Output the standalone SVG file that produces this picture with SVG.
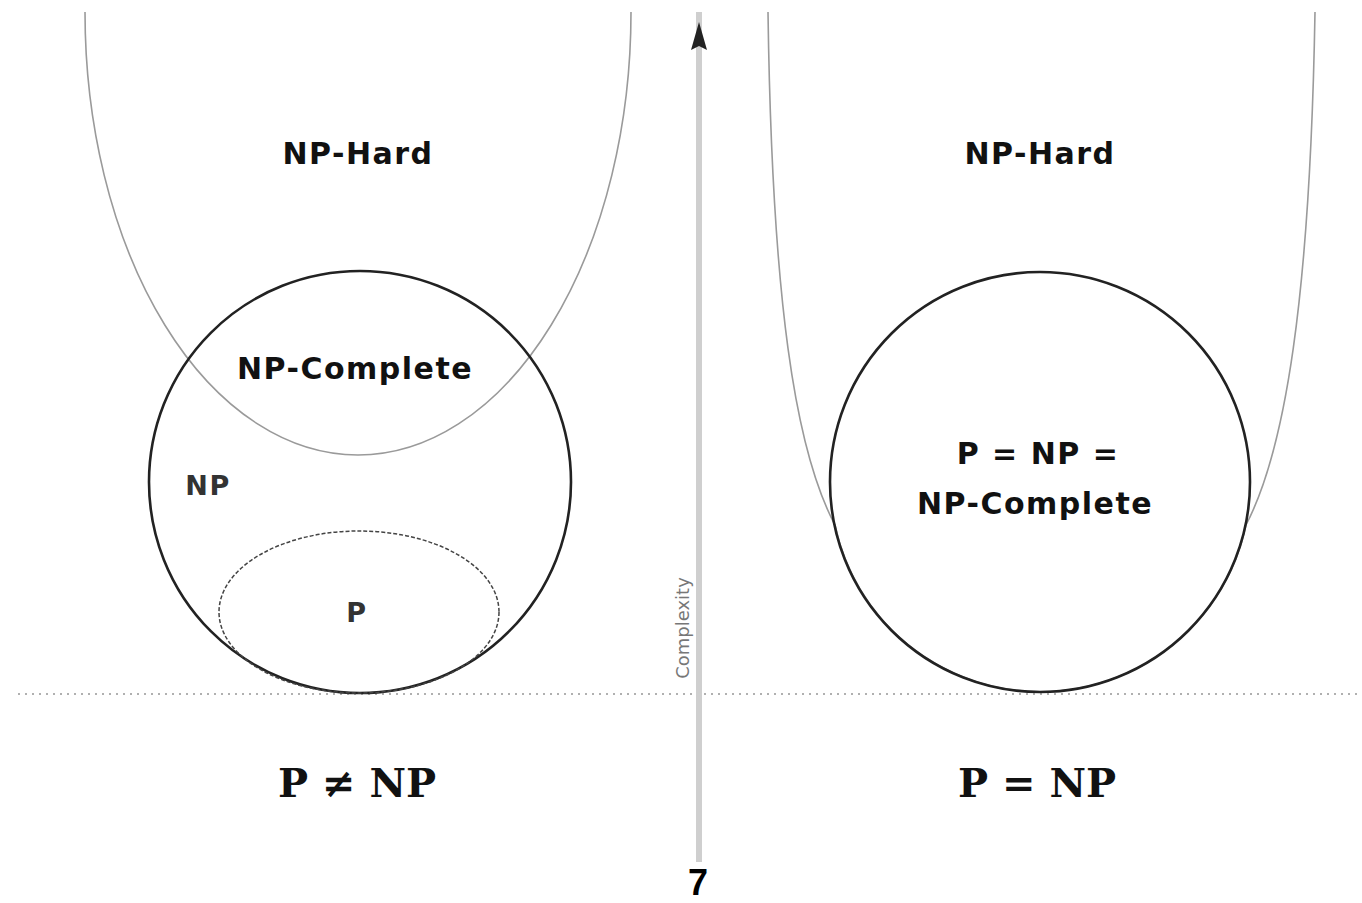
<svg xmlns="http://www.w3.org/2000/svg" width="1362" height="903" viewBox="0 0 1362 903">
<style>
.hard{fill:none;stroke:#9a9a9a;stroke-width:1.6}
.np{fill:none;stroke:#222;stroke-width:2.6}
.p{fill:none;stroke:#444;stroke-width:1.5;stroke-dasharray:4,2}
.lbl{font-family:"DejaVu Sans",sans-serif;font-weight:bold;font-size:30px;letter-spacing:1.5px;fill:#111;text-anchor:middle}
.sub{font-family:"DejaVu Sans",sans-serif;font-weight:bold;font-size:27px;letter-spacing:1.5px;fill:#333;text-anchor:middle}
.eq{font-family:"DejaVu Serif",serif;font-weight:bold;font-size:40px;fill:#111;text-anchor:middle}
</style>
<rect width="1362" height="903" fill="#fff"/>
<g id="baseline">
<line x1="18" y1="694" x2="1362" y2="694" stroke="#b0b0b0" stroke-width="2" stroke-dasharray="2,5"/>
</g>
<g id="connectors">
<line x1="699" y1="12" x2="699" y2="862" stroke="#cfcfcf" stroke-width="6"/>
<polygon points="699,22 707,50 699,46 691,50" fill="#222"/>
<text x="0" y="0" transform="translate(689,628) rotate(-90)" font-family="DejaVu Sans,sans-serif" font-size="18" fill="#777" text-anchor="middle">Complexity</text>
</g>
<g id="left-np-hard">
<path class="hard" d="M85,12 A273,443 0 0 0 631,12"/>
<text class="lbl" x="358" y="164">NP-Hard</text>
</g>
<g id="left-np">
<circle class="np" cx="360" cy="482" r="211"/>
<text class="sub" x="208" y="495">NP</text>
</g>
<g id="left-np-complete">
<text class="lbl" x="355" y="379">NP-Complete</text>
</g>
<g id="left-p">
<ellipse class="p" cx="359" cy="612" rx="140" ry="81"/>
<text class="sub" x="357" y="622">P</text>
</g>
<g id="left-caption">
<text class="eq" x="357" y="797">P ≠ NP</text>
</g>
<g id="right-np-hard">
<path class="hard" d="M768,12 C772,300 795,450 835,525 A210,210 0 0 0 1246,525 C1285,450 1310,300 1315,12"/>
<text class="lbl" x="1040" y="164">NP-Hard</text>
</g>
<g id="right-np">
<circle class="np" cx="1040" cy="482" r="210"/>
<text class="lbl" x="1038" y="464">P = NP =</text>
<text class="lbl" x="1035" y="514">NP-Complete</text>
</g>
<g id="right-caption">
<text class="eq" x="1037" y="797">P = NP</text>
</g>
<g id="page-number">
<text x="698" y="895" font-family="Liberation Sans,Arial,sans-serif" font-weight="bold" font-size="36" fill="#000" text-anchor="middle">7</text>
</g>
</svg>
